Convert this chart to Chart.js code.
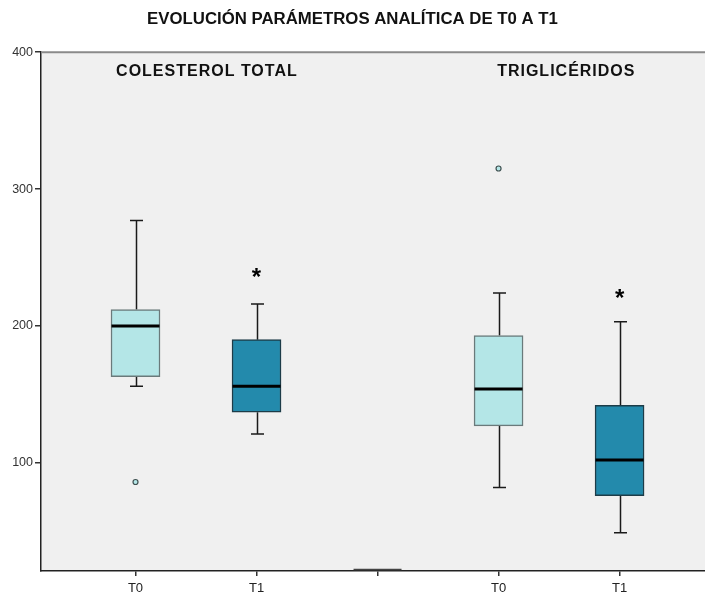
<!DOCTYPE html>
<html>
<head>
<meta charset="utf-8">
<script src="https://cdn.jsdelivr.net/npm/chart.js@4/dist/chart.umd.min.js"></script>
<style>
  html, body { margin: 0; padding: 0; background: #fff; }
  #wrap { width: 705px; height: 597px; }
</style>
</head>
<body>
<div id="wrap"><canvas id="boxes"></canvas></div>
<script>
// categories along the x axis (middle slot is an empty spacer, like SPSS draws it)
const categories = ['T0', 'T1', '', 'T0', 'T1'];
const groupLabels = ['COLESTEROL TOTAL', 'TRIGLICÉRIDOS'];
const yTicks = [100, 200, 300, 400];

// box statistics per box, x = category index
const boxX     = [0, 1, 3, 4];
const whiskLo  = [156, 121, 82, 49];
const q1       = [163, 137, 127, 76];
const median   = [200, 156, 154, 102];
const q3       = [212, 190, 193, 142];
const whiskHi  = [277, 216, 224, 203];
const period   = ['T0', 'T1', 'T0', 'T1'];

// outliers (circles) and significance stars
const outlierX = [0, 3];
const outlierY = [86, 315];
const starX = [1, 4];
const starY = [238, 222];

const fillFor = { T0: '#b4e6e7', T1: '#238aac' };
const edgeFor = { T0: '#6a7a7b', T1: '#1d3c48' };

const boxData = boxX.map((x, i) => ({ x, y: [q1[i], q3[i]] }));
const outlierData = outlierX.map((x, i) => ({ x, y: outlierY[i] }));

// whiskers, medians, background and text drawn through the chart scales
const boxExtras = {
  id: 'boxExtras',
  beforeDraw(chart) {
    const { ctx, chartArea: a } = chart;
    ctx.save();
    ctx.fillStyle = '#f0f0f0';
    ctx.fillRect(a.left, a.top, a.right - a.left, a.bottom - a.top);
    ctx.restore();
  },
  beforeDatasetsDraw(chart) {
    const { ctx, scales: { x, y } } = chart;
    ctx.save();
    ctx.strokeStyle = '#1a1a1a';
    ctx.lineWidth = 1.5;
    boxX.forEach((bx, i) => {
      const px = Math.round(x.getPixelForValue(bx)) + 0.5;
      const cap = 6.5;
      ctx.beginPath();
      ctx.moveTo(px, y.getPixelForValue(whiskHi[i]));
      ctx.lineTo(px, y.getPixelForValue(q3[i]));
      ctx.moveTo(px, y.getPixelForValue(q1[i]));
      ctx.lineTo(px, y.getPixelForValue(whiskLo[i]));
      ctx.moveTo(px - cap, y.getPixelForValue(whiskHi[i]));
      ctx.lineTo(px + cap, y.getPixelForValue(whiskHi[i]));
      ctx.moveTo(px - cap, y.getPixelForValue(whiskLo[i]));
      ctx.lineTo(px + cap, y.getPixelForValue(whiskLo[i]));
      ctx.stroke();
    });
    ctx.restore();
  },
  afterDatasetsDraw(chart) {
    const { ctx, chartArea: a, scales: { x, y } } = chart;
    ctx.save();
    // medians
    ctx.strokeStyle = '#000';
    ctx.lineWidth = 3;
    boxX.forEach((bx, i) => {
      const px = x.getPixelForValue(bx);
      const py = y.getPixelForValue(median[i]);
      ctx.beginPath();
      ctx.moveTo(px - 24, py);
      ctx.lineTo(px + 24, py);
      ctx.stroke();
    });
    // empty middle slot
    ctx.strokeStyle = '#444';
    ctx.lineWidth = 1.5;
    const mx = x.getPixelForValue(2);
    ctx.beginPath();
    ctx.moveTo(mx - 24, a.bottom - 1.5);
    ctx.lineTo(mx + 24, a.bottom - 1.5);
    ctx.stroke();
    // stars
    ctx.fillStyle = '#000';
    ctx.font = 'bold 24px Arial';
    ctx.textAlign = 'center';
    ctx.textBaseline = 'middle';
    starX.forEach((sx, i) => {
      ctx.fillText('*', x.getPixelForValue(sx), y.getPixelForValue(starY[i]) + 4);
    });
    // group labels
    ctx.font = 'bold 16px Arial';
    ctx.letterSpacing = '1px';
    ctx.fillStyle = '#111';
    ctx.fillText(groupLabels[0], x.getPixelForValue(0.59), a.top + 19);
    ctx.fillText(groupLabels[1], x.getPixelForValue(3.56), a.top + 19);
    ctx.letterSpacing = '0px';
    // top frame
    ctx.strokeStyle = '#8a8a8a';
    ctx.lineWidth = 2;
    ctx.beginPath();
    ctx.moveTo(a.left, a.top);
    ctx.lineTo(a.right, a.top);
    ctx.stroke();
    ctx.restore();
  }
};

var boxCtx = document.getElementById('boxes').getContext('2d');
var boxChart = new Chart(boxCtx, {
  type: 'bar',
  data: {
    datasets: [{
      type: 'bar',
      data: boxData,
      backgroundColor: period.map(p => fillFor[p]),
      borderColor: period.map(p => edgeFor[p]),
      borderWidth: 1.5,
      borderSkipped: false,
      barThickness: 49,
      order: 2
    }, {
      type: 'scatter',
      data: outlierData,
      pointRadius: 2.5,
      pointBackgroundColor: '#b4e6e7',
      pointBorderColor: '#3f5050',
      pointBorderWidth: 1.2,
      order: 1
    }]
  },
  options: {
    responsive: true,
    maintainAspectRatio: false,
    animation: false,
    layout: { padding: 0, autoPadding: false },
    plugins: {
      legend: { display: false },
      tooltip: { enabled: false },
      title: {
        display: true,
        text: 'EVOLUCIÓN PARÁMETROS ANALÍTICA DE T0 A T1',
        color: '#111',
        font: { family: 'Arial', size: 16.8, weight: 'bold', lineHeight: 1.2 },
        padding: { top: 9, bottom: 23 }
      }
    },
    scales: {
      x: {
        type: 'linear',
        min: -0.781,
        max: 4.706,
        offset: false,
        afterBuildTicks: (scale) => { scale.ticks = categories.map((c, i) => ({ value: i })); },
        afterFit: (scale) => { scale.height = 26; },
        ticks: {
          callback: (v) => categories[v],
          color: '#222',
          font: { family: 'Arial', size: 13 },
          padding: 5,
          maxRotation: 0,
          autoSkip: false
        },
        grid: { display: true, offset: false, drawOnChartArea: false, drawTicks: true, tickLength: 5, color: '#333', lineWidth: 1.5 },
        border: { display: true, color: '#222', width: 1.5 }
      },
      y: {
        min: 21,
        max: 400,
        afterBuildTicks: (scale) => { scale.ticks = yTicks.map(v => ({ value: v })); },
        afterFit: (scale) => { scale.width = 41; },
        ticks: {
          color: '#333',
          font: { family: 'Arial', size: 12.5 },
          padding: 2
        },
        grid: { display: true, drawOnChartArea: false, drawTicks: true, tickLength: 6, color: '#333', lineWidth: 1.5 },
        border: { display: true, color: '#222', width: 1.5 }
      }
    }
  },
  plugins: [boxExtras]
});
</script>
</body>
</html>
